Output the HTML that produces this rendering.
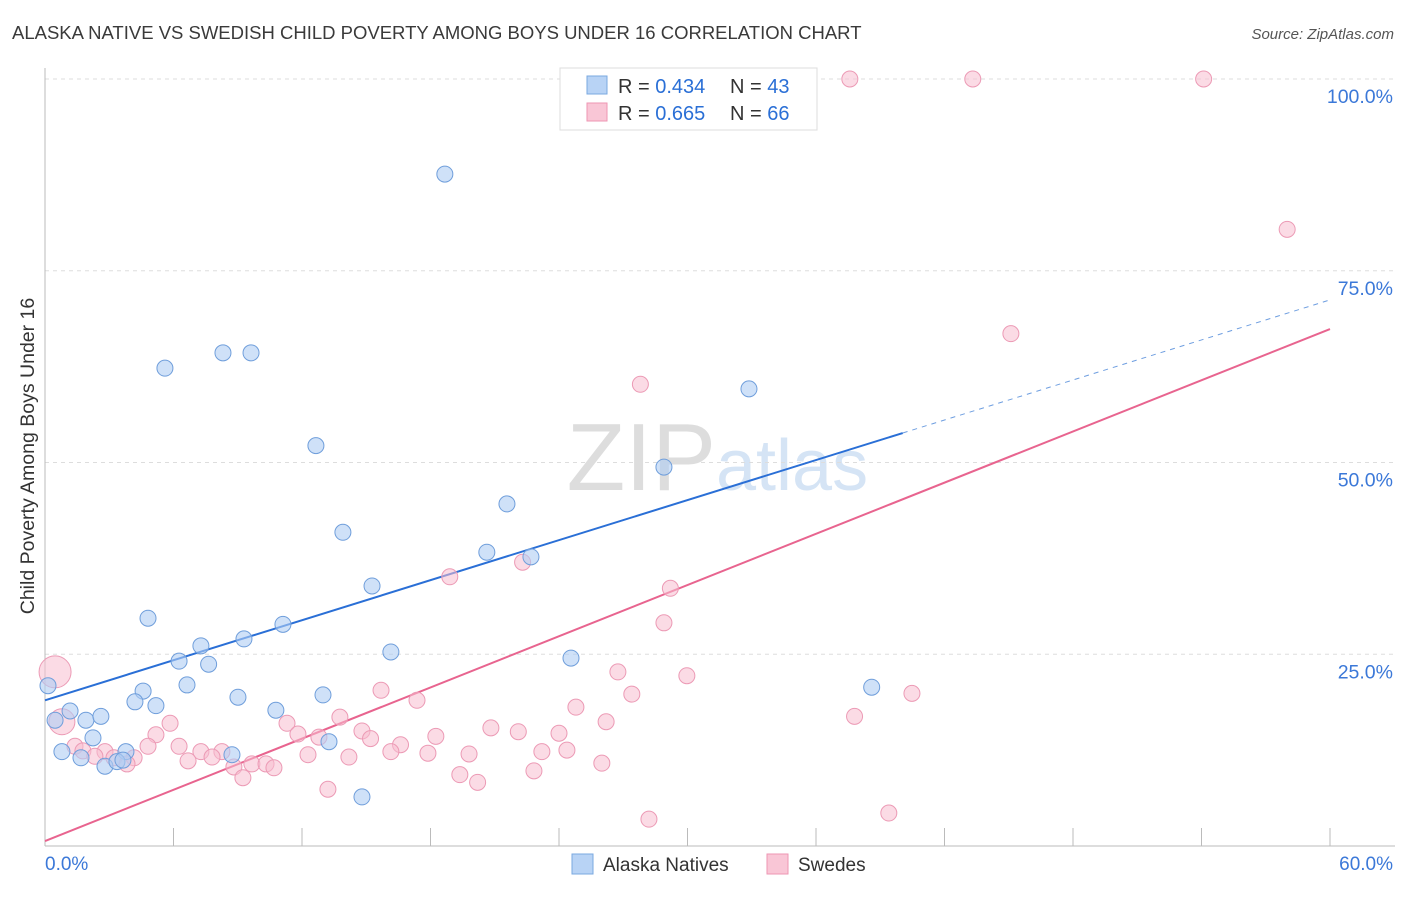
<!DOCTYPE html>
<html><head><meta charset="utf-8"><style>
body{margin:0;background:#fff;font-family:"Liberation Sans",sans-serif;}
svg text{font-family:"Liberation Sans",sans-serif;}
</style></head><body>
<svg id="chart" width="1406" height="892" viewBox="0 0 1406 892">
<text x="12" y="39" font-size="18.5" fill="#3a3a3a">ALASKA NATIVE VS SWEDISH CHILD POVERTY AMONG BOYS UNDER 16 CORRELATION CHART</text>
<text x="1394" y="39" font-size="15" fill="#555" text-anchor="end" font-style="italic">Source: ZipAtlas.com</text>
<text x="716" y="490" font-size="96" fill="#ddd" text-anchor="end" font-family="Liberation Serif">ZIP</text>
<text x="716" y="490" font-size="72" fill="#d5e4f5">atlas</text>
<g id="grid"></g>
<g id="axes"></g>
<g id="lines"></g>
<g id="points"></g>
<text transform="translate(34,456) rotate(-90)" font-size="19.5" fill="#333" text-anchor="middle">Child Poverty Among Boys Under 16</text>
<g>
<rect x="560" y="68" width="257" height="62" fill="#fff" stroke="#ddd"/>
<rect x="587" y="76" width="20" height="18" fill="#b8d3f5" stroke="#7aa8e0"/>
<rect x="587" y="103" width="20" height="18" fill="#f9c6d6" stroke="#ee96b3"/>
<text x="618" y="93" font-size="20" fill="#333">R = <tspan fill="#2a6fd6">0.434</tspan><tspan x="730">N = </tspan><tspan fill="#2a6fd6">43</tspan></text>
<text x="618" y="120" font-size="20" fill="#333">R = <tspan fill="#2a6fd6">0.665</tspan><tspan x="730">N = </tspan><tspan fill="#2a6fd6">66</tspan></text>
</g>
<g>
<rect x="572" y="854" width="21" height="20" fill="#b8d3f5" stroke="#7aa8e0"/>
<text x="603" y="871" font-size="19" fill="#333">Alaska Natives</text>
<rect x="767" y="854" width="21" height="20" fill="#f9c6d6" stroke="#ee96b3"/>
<text x="798" y="871" font-size="19" fill="#333">Swedes</text>
</g>
</svg>
<script>
const blueX=[18.67,5.6,8.31,9.62,12.65,32.87,28.9,21.57,13.91,20.63,22.69,15.27,4.81,11.11,9.29,7.28,16.15,24.56,6.26,7.64,6.63,0.14,4.58,38.6,9.01,12.98,4.2,5.18,10.78,1.17,0.47,1.91,2.61,2.24,13.26,0.79,3.78,1.68,8.73,2.8,3.36,3.64,14.8];
const blueY=[87.6,62.3,64.3,64.3,52.2,59.6,49.4,44.6,40.9,38.3,37.7,33.9,29.7,28.9,27.0,26.1,25.3,24.5,24.1,23.7,21.0,20.9,20.2,20.7,19.4,19.7,18.8,18.3,17.7,17.6,16.4,16.4,16.9,14.1,13.6,12.3,12.3,11.5,11.9,10.4,11.0,11.2,6.4];
const pinkX=[37.58,43.32,54.1,58.0,45.1,27.8,18.9,22.3,29.2,28.9,0.47,26.75,29.97,15.69,27.4,40.48,17.37,24.79,37.8,0.79,5.84,11.3,13.77,26.2,11.81,5.18,20.82,22.1,14.8,18.25,24.0,15.2,12.79,16.6,4.81,6.26,1.4,1.77,2.8,7.28,8.26,24.37,23.2,17.88,19.8,16.15,2.33,4.16,12.28,14.19,6.68,7.8,3.22,3.83,9.66,10.32,8.82,10.69,26.0,22.83,19.37,20.2,9.24,13.21,28.2,39.4];
const pinkY=[100,100,100,80.4,66.8,60.2,35.1,37.0,33.6,29.1,22.7,22.7,22.2,20.3,19.8,19.9,19.0,18.1,16.9,16.2,16.0,16.0,16.8,16.2,14.6,14.5,15.4,14.9,15.0,14.3,14.7,14.0,14.2,13.2,13.0,13.0,13.0,12.4,12.3,12.3,12.3,12.5,12.3,12.1,12.0,12.3,11.7,11.5,11.9,11.6,11.1,11.6,11.5,10.7,10.7,10.7,10.3,10.2,10.8,9.8,9.3,8.3,8.9,7.4,3.5,4.3];
const pinkBig=[10,19];
const blueFit=[19.0,71.2,40.05];
const pinkFit=[0.65,67.4];
const yTicks=[25,50,75,100];
const yTickLabels=["25.0%","50.0%","75.0%","100.0%"];
const xTicks=[6,12,18,24,30,36,42,48,54,60];
const NS="http://www.w3.org/2000/svg";
const sx=v=>45+v*1285/60, sy=v=>846-v*7.67;
function mk(t,a,p){const e=document.createElementNS(NS,t);for(const k in a)e.setAttribute(k,a[k]);p.appendChild(e);return e;}
const grid=document.getElementById('grid'),axes=document.getElementById('axes'),lines=document.getElementById('lines'),pts=document.getElementById('points');
yTicks.forEach((v,i)=>{
 const l=mk('line',{x1:45,x2:1395,y1:sy(v),y2:sy(v),stroke:'#ddd','stroke-dasharray':'4,4'},grid);
 
 
 const t=mk('text',{x:1393,y:sy(v)+24,'font-size':19.5,fill:'#3b78d8','text-anchor':'end'},axes);t.textContent=yTickLabels[i];
 
 
});
mk('line',{x1:45,x2:45,y1:68,y2:846,stroke:'#bbb'},axes);
mk('line',{x1:45,x2:1395,y1:846,y2:846,stroke:'#bbb'},axes);
xTicks.forEach(v=>{const l=mk('line',{x1:sx(v),x2:sx(v),y1:828,y2:846,stroke:'#bbb'},axes);
 
 });
let t0=mk('text',{x:45,y:870,'font-size':19,fill:'#3b78d8'},axes);t0.textContent="0.0%";


let t1=mk('text',{x:1393,y:870,'font-size':19,fill:'#3b78d8','text-anchor':'end'},axes);t1.textContent="60.0%";


const bAt=x=>blueFit[0]+(blueFit[1]-blueFit[0])*x/60;
let bl=mk('line',{x1:sx(0),y1:sy(bAt(0)),x2:sx(blueFit[2]),y2:sy(bAt(blueFit[2])),stroke:'#2a6fd6','stroke-width':2},lines);


let bd=mk('line',{x1:sx(blueFit[2]),y1:sy(bAt(blueFit[2])),x2:sx(60),y2:sy(bAt(60)),stroke:'#6e9ee0','stroke-width':1,'stroke-dasharray':'5,5'},lines);


let pl=mk('line',{x1:sx(0),y1:sy(pinkFit[0]),x2:sx(60),y2:sy(pinkFit[1]),stroke:'#e8648f','stroke-width':2},lines);


pinkX.forEach((x,i)=>{const r=i==pinkBig[0]?16:(i==pinkBig[1]?13:8);
 const c=mk('circle',{cx:sx(x),cy:sy(pinkY[i]),r:r,fill:'rgba(248,190,208,0.55)',stroke:'#ec9ab5','stroke-width':1},pts);
 
 });
blueX.forEach((x,i)=>{const c=mk('circle',{cx:sx(x),cy:sy(blueY[i]),r:8,fill:'rgba(175,205,243,0.6)',stroke:'#6f9edb','stroke-width':1},pts);
 
 });
</script>
</body></html>
